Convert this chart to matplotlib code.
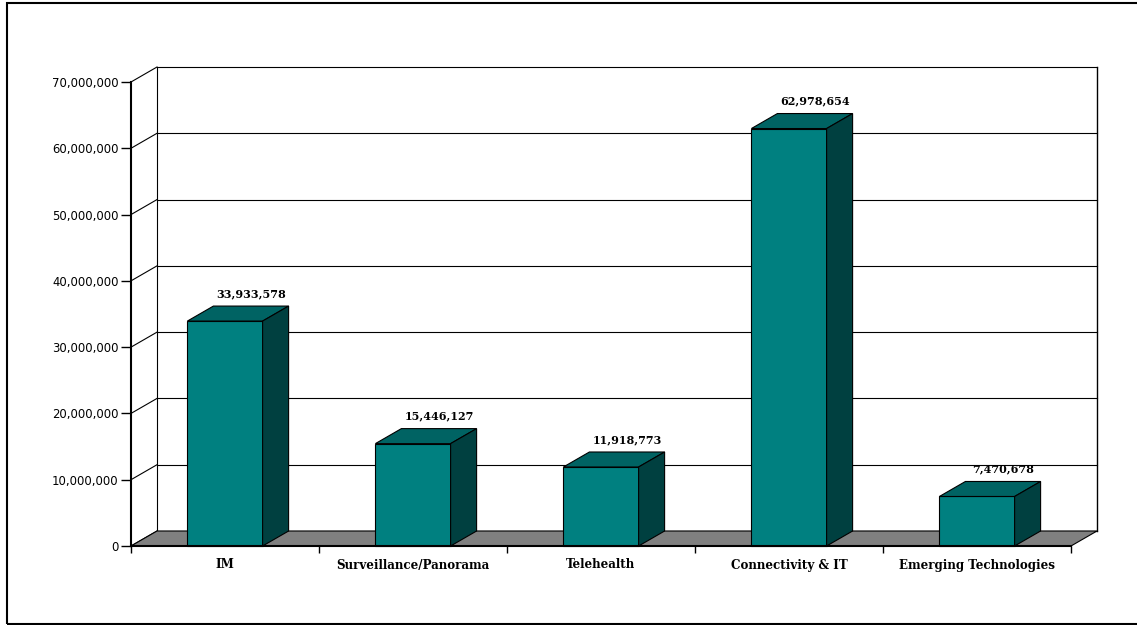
import matplotlib
matplotlib.use("Agg")
import matplotlib.pyplot as plt
from matplotlib.patches import Polygon, Rectangle
from matplotlib.lines import Line2D

# Funding by program area
categories = ["IM", "Surveillance/Panorama", "Telehealth",
              "Connectivity & IT", "Emerging Technologies"]
values = [33933578, 15446127, 11918773, 62978654, 7470678]
y_ticks = [0, 10000000, 20000000, 30000000, 40000000, 50000000, 60000000, 70000000]
y_tick_labels = ["0", "10,000,000", "20,000,000", "30,000,000", "40,000,000",
                 "50,000,000", "60,000,000", "70,000,000"]

W, H, DPI = 1137, 625, 100
FRONT = "#008080"
TOP = "#006363"
SIDE = "#004040"
FLOOR = "#808080"

fig = plt.figure(figsize=(W / DPI, H / DPI), dpi=DPI)
fig.patch.set_facecolor("white")

# front plane of the 3-D box
ax = fig.add_axes([131 / W, 79 / H, 940 / W, 464 / H])
n = len(categories)
ymax = y_ticks[-1]
ax.set_xlim(0, n)
ax.set_ylim(0, ymax)
ax.set_facecolor("none")

# oblique depth of the box, in data units
dx = 26 / 940 * n
dy = 15 / 464 * ymax

lw_thin = 0.8


def wall_line(xs, ys, lw=lw_thin):
    ax.add_line(Line2D(xs, ys, color="black", lw=lw, zorder=1, clip_on=False))


# back wall grid lines and side-wall diagonals
for v in y_ticks:
    wall_line([dx, n + dx], [v + dy, v + dy])
    wall_line([0, dx], [v, v + dy])
wall_line([dx, dx], [dy, ymax + dy])
wall_line([n + dx, n + dx], [dy, ymax + dy], lw=1.0)

# floor
ax.add_patch(Polygon([(0, 0), (n, 0), (n + dx, dy), (dx, dy)], closed=True,
                     facecolor=FLOOR, edgecolor="black", lw=lw_thin, zorder=2,
                     clip_on=False))

# 3-D columns
bw = 0.4
for i, v in enumerate(values):
    x0 = i + 0.5 - bw / 2
    x1 = x0 + bw
    ax.add_patch(Rectangle((x0, 0), bw, v, facecolor=FRONT, edgecolor="black",
                           lw=lw_thin, zorder=3, clip_on=False))
    ax.add_patch(Polygon([(x0, v), (x1, v), (x1 + dx, v + dy), (x0 + dx, v + dy)],
                         closed=True, facecolor=TOP, edgecolor="black", lw=lw_thin,
                         zorder=3, clip_on=False))
    ax.add_patch(Polygon([(x1, 0), (x1 + dx, dy), (x1 + dx, v + dy), (x1, v)],
                         closed=True, facecolor=SIDE, edgecolor="black", lw=lw_thin,
                         zorder=3, clip_on=False))
    ax.annotate(f"{v:,}", xy=(i + 0.5 + dx, v + dy), xytext=(0, 5),
                textcoords="offset points", ha="center", va="bottom",
                fontfamily="DejaVu Serif", fontweight="bold", fontsize=8.0,
                zorder=5)

# axes: spines and ticks
for s in ("top", "right"):
    ax.spines[s].set_visible(False)
ax.spines["left"].set_linewidth(1.5)
ax.spines["bottom"].set_linewidth(1.5)
ax.spines["left"].set_zorder(4)
ax.spines["bottom"].set_zorder(4)

ax.set_yticks(y_ticks)
ax.set_yticklabels(y_tick_labels, fontfamily="DejaVu Sans", fontsize=8.4)
ax.tick_params(axis="y", direction="out", length=7.5, width=1.0, pad=1.5)

ax.set_xticks(range(n + 1))
ax.set_xticklabels([])
ax.tick_params(axis="x", which="major", direction="out", length=5, width=1.0)
ax.set_xticks([i + 0.5 for i in range(n)], minor=True)
ax.set_xticklabels(categories, minor=True, fontfamily="DejaVu Serif",
                   fontweight="bold", fontsize=8.6)
ax.tick_params(axis="x", which="minor", length=0, pad=9)

# chart-area border
fig.add_artist(Rectangle((7 / W, 1 / H), (W + 10 - 7) / W, (H - 4) / H,
                         transform=fig.transFigure, facecolor="none",
                         edgecolor="black", lw=1.5))

fig.savefig("out.png", dpi=DPI)
